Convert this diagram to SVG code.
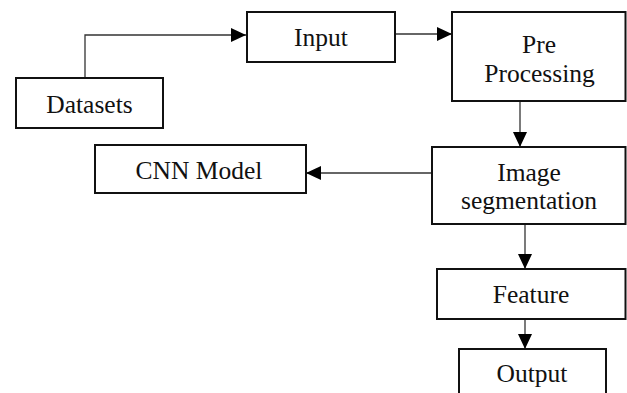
<svg xmlns="http://www.w3.org/2000/svg" width="627" height="393" viewBox="0 0 627 393">
  <style>
    .box { fill: #ffffff; stroke: #111111; stroke-width: 2; }
    .conn { fill: none; stroke: #333333; stroke-width: 1.3; }
  </style>
  <defs>
    <marker id="arrow" markerUnits="userSpaceOnUse" markerWidth="15" markerHeight="14" refX="15" refY="7" orient="auto">
      <path d="M0,0 L15,7 L0,14 Z" fill="#000000"/>
    </marker>
  </defs>

  <rect width="627" height="393" fill="#ffffff"/>

  <g id="connectors">
    <path class="conn" d="M85,78 V35 H246" marker-end="url(#arrow)"/>
    <path class="conn" d="M395,34 H452" marker-end="url(#arrow)"/>
    <path class="conn" d="M520,101 V147" marker-end="url(#arrow)"/>
    <path class="conn" d="M432,173 H306" marker-end="url(#arrow)"/>
    <path class="conn" d="M525,224 V269" marker-end="url(#arrow)"/>
    <path class="conn" d="M525,319 V349" marker-end="url(#arrow)"/>
  </g>

  <g font-family="'Liberation Serif', 'Times New Roman', serif" font-size="25.5" fill="#111111" text-anchor="middle">
    <g id="datasets">
      <rect class="box" x="16" y="78" width="147" height="50"/>
      <text x="89.5" y="113">Datasets</text>
    </g>

    <g id="input">
      <rect class="box" x="247" y="12" width="148" height="50"/>
      <text x="321" y="46">Input</text>
    </g>

    <g id="pre-processing">
      <rect class="box" x="452" y="12" width="173.5" height="89"/>
      <text x="539" y="53">Pre</text>
      <text x="539.5" y="82">Processing</text>
    </g>

    <g id="cnn-model">
      <rect class="box" x="95" y="145" width="211" height="48"/>
      <text x="199" y="179">CNN Model</text>
    </g>

    <g id="image-segmentation">
      <rect class="box" x="432" y="147" width="193.5" height="77"/>
      <text x="529" y="181">Image</text>
      <text x="529" y="209">segmentation</text>
    </g>

    <g id="feature">
      <rect class="box" x="437" y="269" width="188.5" height="50"/>
      <text x="531" y="303">Feature</text>
    </g>

    <g id="output">
      <rect class="box" x="459" y="349" width="147" height="60"/>
      <text x="532" y="382">Output</text>
    </g>
  </g>
</svg>
